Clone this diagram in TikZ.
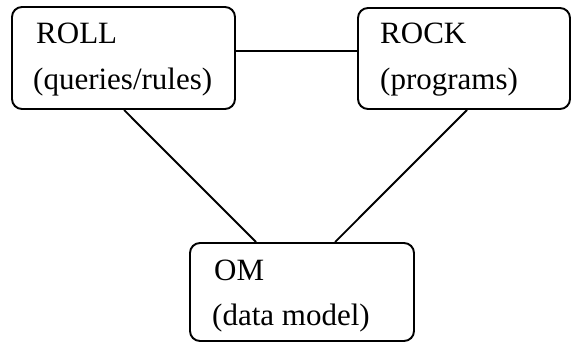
\documentclass[tikz,border=0pt]{standalone}
\usepackage{fontspec}
\setmainfont{Liberation Serif}
\usetikzlibrary{calc}
\tikzset{
  box/.style={draw, line width=1.9pt, rounded corners=10pt, inner sep=0pt},
  lbl/.style={anchor=base west, inner sep=0pt, font=\fontsize{31pt}{36pt}\selectfont},
  link/.style={line width=1.9pt}
}
\begin{document}
\begin{tikzpicture}[x=1pt,y=-1pt]
\useasboundingbox (0,0) rectangle (572,343);
\node[box, minimum width=223pt, minimum height=102pt] (roll) at (123.5,58) {};
\node[box, minimum width=212pt, minimum height=101pt] (rock) at (464,58.5) {};
\node[box, minimum width=224pt, minimum height=98pt] (om) at (302,292) {};
\node[lbl] (rollt) at (36,43) {ROLL};
\node[lbl] (rolls) at (33,89) {(queries/rules)};
\node[lbl] (rockt) at (380,43) {ROCK};
\node[lbl] (rocks) at (380,89) {(programs)};
\node[lbl] (omt) at (214,280) {OM};
\node[lbl] (oms) at (212,325) {(data model)};
\draw[link] ($(roll.north east)+(0,45)$) -- ($(rock.north west)+(0,44)$);
\draw[link] ($(roll.south west)+(113,0)$) -- ($(om.north west)+(67,0)$);
\draw[link] ($(rock.south west)+(110,0)$) -- ($(om.north west)+(146,0)$);
\end{tikzpicture}
\end{document}
